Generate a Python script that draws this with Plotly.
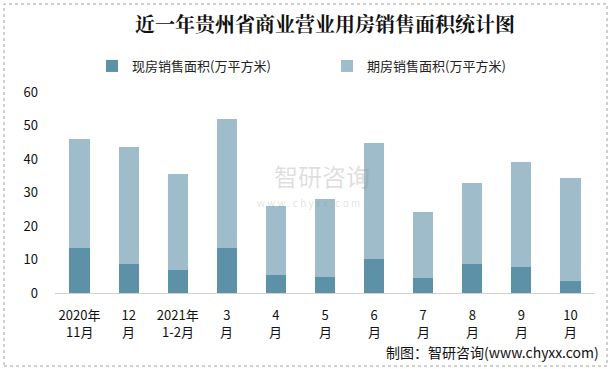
import plotly.graph_objects as go

tick_line1 = ["2020年", "12", "2021年", "3", "4", "5", "6", "7", "8", "9", "10"]
tick_line2 = ["11月", "月", "1-2月", "月", "月", "月", "月", "月", "月", "月", "月"]
current_area = [13.3, 8.6, 6.8, 13.3, 5.3, 4.7, 10.1, 4.4, 8.6, 7.7, 3.5]
future_area = [32.6, 34.9, 28.6, 38.5, 20.6, 23.3, 34.6, 19.7, 24.1, 31.3, 30.7]
y_ticks = [0, 10, 20, 30, 40, 50, 60]

L, R, T, B = 55, 18, 92, 76
W, H = 613, 369
pw, ph = W - L - R, H - T - B

def px(x):
    return (x - L) / pw

def py(y):
    return (H - B - y) / ph

idx = list(range(len(tick_line1)))

fig = go.Figure()
fig.add_trace(go.Bar(x=idx, y=current_area, name="现房销售面积(万平方米)",
                     marker=dict(color="#5D91A7", line=dict(width=0))))
fig.add_trace(go.Bar(x=idx, y=future_area, name="期房销售面积(万平方米)",
                     marker=dict(color="#9EBCC9", line=dict(width=0))))

fig.update_layout(
    width=W, height=H, barmode="stack", bargap=0.59,
    margin=dict(l=L, r=R, t=T, b=B, autoexpand=False),
    paper_bgcolor="white", plot_bgcolor="white",
    font=dict(family="Noto Sans CJK SC, sans-serif", size=13, color="#222"),
    title=dict(text="近一年贵州省商业营业用房销售面积统计图", x=0.5, xref="paper",
               y=1 - 25 / H, yanchor="middle",
               font=dict(family="Noto Serif CJK SC, Noto Sans CJK SC", size=20, color="#111", weight="bold")),
    legend=dict(orientation="h", x=px(92), xanchor="left", y=py(66), yanchor="middle",
                entrywidth=190, entrywidthmode="pixels", itemclick=False,
                font=dict(size=13, color="#222"), traceorder="normal", bgcolor="rgba(0,0,0,0)"),
    showlegend=True,
)
fig.update_xaxes(tickmode="array", tickvals=idx, ticktext=tick_line1,
                 range=[-0.5, len(idx) - 0.5], showline=True, linecolor="#D0D0D0", linewidth=1,
                 ticks="", showgrid=False, automargin=False, ticklabelstandoff=10,
                 tickfont=dict(size=13, color="#111"))
fig.update_yaxes(range=[0, 60], tickvals=y_ticks, showgrid=False, zeroline=False, showline=False,
                 ticks="", ticklabelstandoff=16, automargin=False, tickfont=dict(size=13, color="#111"))

for i, t in zip(idx, tick_line2):
    fig.add_annotation(text=t, x=i, xref="x", y=py(331), yref="paper", yanchor="middle",
                       showarrow=False, borderpad=0, font=dict(size=13, color="#111"))

fig.add_annotation(text="智研咨询", x=px(322), y=py(175), xref="paper", yref="paper",
                   showarrow=False, borderpad=0, font=dict(size=24, color="rgba(140,140,140,0.28)"))
fig.add_annotation(text="w w w . c h y x x . c o m", x=px(308), y=py(202), xref="paper", yref="paper",
                   showarrow=False, borderpad=0, font=dict(size=10, color="rgba(140,140,140,0.28)"))
fig.add_annotation(text="制图：智研咨询(www.chyxx.com)", x=px(601), y=py(352), xref="paper", yref="paper",
                   xanchor="right", yanchor="middle", showarrow=False, font=dict(size=14, color="#111"))
fig.add_shape(type="rect", xref="paper", yref="paper", x0=px(4), x1=px(607), y0=py(366), y1=py(4),
              line=dict(color="#A0A0A0", width=1, dash="dot"), layer="below")

fig.write_html("out.html", config={"displayModeBar": False},
               post_script="document.body.style.margin='0';")
